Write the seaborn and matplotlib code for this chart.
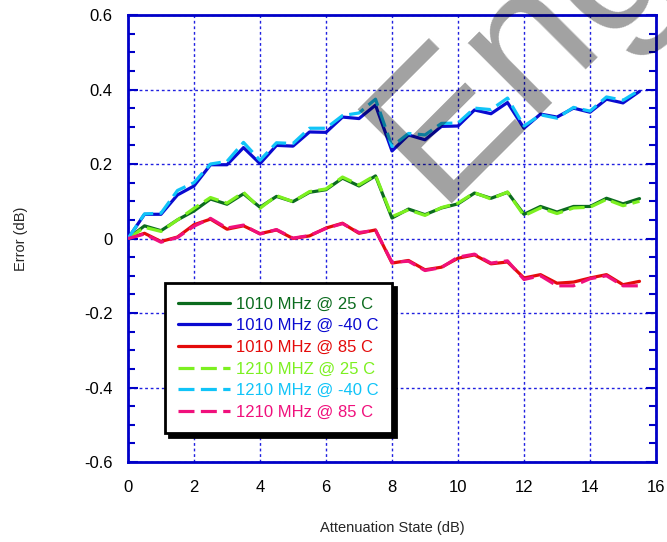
import numpy as np
import pandas as pd
import matplotlib
matplotlib.use("Agg")
import matplotlib.pyplot as plt
import seaborn as sns

# ---- data ----
atten = [i * 0.5 for i in range(32)]

f1010_m40 = [0, 0.065, 0.065, 0.117, 0.141, 0.198, 0.198, 0.244, 0.201, 0.25, 0.248, 0.286, 0.285, 0.326, 0.322, 0.358,
             0.235, 0.278, 0.265, 0.301, 0.302, 0.345, 0.335, 0.365, 0.296, 0.334, 0.326, 0.35, 0.339, 0.374, 0.364, 0.395]
f1210_m40 = [0, 0.066, 0.068, 0.129, 0.15, 0.2, 0.207, 0.258, 0.21, 0.257, 0.255, 0.296, 0.296, 0.33, 0.337, 0.374,
             0.247, 0.282, 0.278, 0.309, 0.31, 0.35, 0.346, 0.377, 0.302, 0.332, 0.323, 0.352, 0.342, 0.38, 0.371, 0.398]
f1010_25 = [0, 0.034, 0.021, 0.05, 0.074, 0.106, 0.092, 0.12, 0.084, 0.113, 0.099, 0.124, 0.131, 0.162, 0.141, 0.168,
            0.055, 0.079, 0.064, 0.082, 0.093, 0.122, 0.108, 0.124, 0.065, 0.086, 0.071, 0.086, 0.086, 0.108, 0.093, 0.107]
f1210_25 = [0, 0.03, 0.019, 0.05, 0.081, 0.11, 0.095, 0.124, 0.081, 0.115, 0.099, 0.126, 0.133, 0.165, 0.144, 0.17,
            0.059, 0.077, 0.062, 0.083, 0.095, 0.123, 0.106, 0.125, 0.061, 0.082, 0.067, 0.082, 0.084, 0.105, 0.088, 0.1]
f1010_85 = [0, 0.014, -0.008, 0.004, 0.037, 0.052, 0.025, 0.034, 0.013, 0.023, 0.0, 0.007, 0.028, 0.041, 0.014, 0.023,
            -0.066, -0.059, -0.084, -0.077, -0.053, -0.044, -0.068, -0.063, -0.106, -0.097, -0.12, -0.117, -0.106, -0.097, -0.124, -0.115]
f1210_85 = [0, 0.012, -0.01, 0.003, 0.033, 0.054, 0.028, 0.036, 0.012, 0.024, 0.001, 0.008, 0.027, 0.04, 0.016, 0.022,
            -0.064, -0.061, -0.086, -0.078, -0.05, -0.042, -0.066, -0.06, -0.11, -0.1, -0.127, -0.127, -0.108, -0.1, -0.127, -0.127]

series_labels = ["1010 MHz @ 25 C", "1010 MHz @ -40 C", "1010 MHz @ 85 C",
                 "1210 MHZ @ 25 C", "1210 MHz @ -40 C", "1210 MHz @ 85 C"]
series_values = [f1010_25, f1010_m40, f1010_85, f1210_25, f1210_m40, f1210_85]
series_colors = ["#0b6b1e", "#0a0ad0", "#e40b0b", "#7cf020", "#10c4f8", "#f0107c"]
series_dashed = [False, False, False, True, True, True]

xticks = [0, 2, 4, 6, 8, 10, 12, 14, 16]
yticks = [-0.6, -0.4, -0.2, 0, 0.2, 0.4, 0.6]
ytick_labels = ["-0.6", "-0.4", "-0.2", "0", "0.2", "0.4", "0.6"]

# ---- style ----
sns.set_style("white")
plt.rcParams["font.family"] = ["Liberation Sans", "DejaVu Sans"]

fig = plt.figure(figsize=(6.67, 5.42), dpi=100)
ax = fig.add_axes([128 / 667, 1 - 462 / 542, 528 / 667, 447 / 542])

axis_blue = "#0000c8"
handles = []
for lab, vals, col, dashed in zip(series_labels, series_values, series_colors, series_dashed):
    df = pd.DataFrame({"x": atten, "y": vals})
    ls = (0, (5, 2)) if dashed else "-"
    sns.lineplot(data=df, x="x", y="y", color=col, lw=2.3, linestyle=ls,
                 ax=ax, legend=False, zorder=3 if dashed else 2)
    handles.append(ax.lines[-1])

ax.set_xlim(0, 16)
ax.set_ylim(-0.6, 0.6)
ax.set_xticks(xticks)
ax.set_xticklabels([str(t) for t in xticks])
ax.set_yticks(yticks)
ax.set_yticklabels(ytick_labels)
ax.set_yticks(np.arange(-0.6, 0.6001, 0.05), minor=True)

ax.grid(True, which="major", color="#2020e0", linestyle=(0, (2, 2)), lw=1.0)
for s in ax.spines.values():
    s.set_color(axis_blue)
    s.set_linewidth(2)
    s.set_visible(True)

ax.tick_params(axis="x", which="both", length=0, labelsize=12, pad=13, labelcolor="black")
ax.tick_params(axis="y", which="major", direction="in", length=7, width=1.5, color=axis_blue,
               left=True, right=True, labelsize=12, pad=11, labelcolor="black")
ax.tick_params(axis="y", which="minor", direction="in", length=5, width=1.5, color=axis_blue,
               left=True, right=True)

ax.set_xlabel("Attenuation State (dB)", fontsize=10.5)
ax.set_ylabel("Error (dB)", fontsize=10.5)
ax.xaxis.set_label_coords(0.5, -0.133)
ax.yaxis.set_label_coords(-0.19, 0.5)

leg = ax.legend(handles=handles, labels=series_labels, loc="upper left",
                bbox_to_anchor=(0.07, 0.40), fontsize=12, labelcolor="linecolor",
                frameon=True, fancybox=False, shadow={"ox": 3, "oy": -3, "color": "black", "alpha": 1},
                borderpad=0.8, labelspacing=0.4, handlelength=3.1, handletextpad=0.35,
                borderaxespad=0)
leg.get_frame().set_edgecolor("black")
leg.get_frame().set_linewidth(2)
leg.get_frame().set_alpha(1)
leg.set_zorder(5)

# watermark
fig.text(436 / 667, 1 - 204 / 542, "Engineering", rotation=45, rotation_mode="anchor",
         ha="left", va="baseline", fontsize=139, color="black", alpha=0.37, zorder=10)

fig.savefig("out.png", dpi=100)
